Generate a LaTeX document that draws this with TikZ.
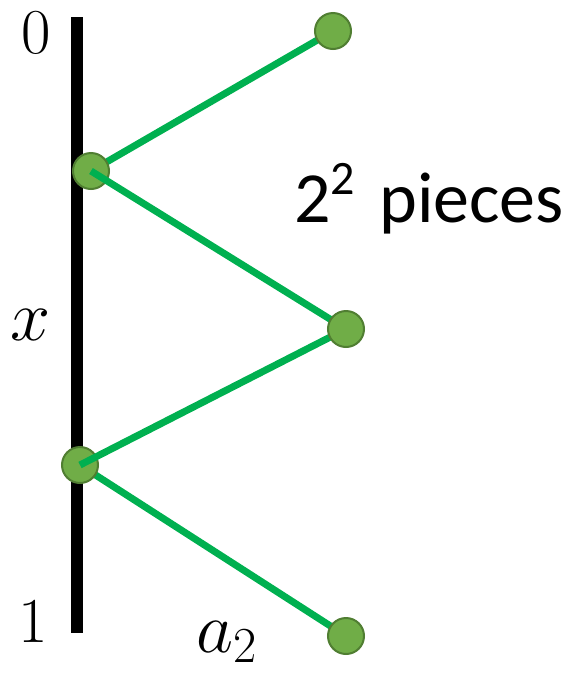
\documentclass[tikz,border=0pt]{standalone}
\usepackage{fix-cm}
\usepackage{fontspec}
\newfontfamily\piecefont{Carlito}
\definecolor{dotfill}{HTML}{70AD47}
\definecolor{dotrim}{HTML}{507E32}
\definecolor{splitgreen}{HTML}{00B050}
\pgfdeclarelayer{back}
\pgfdeclarelayer{front}
\pgfsetlayers{back,main,front}
\begin{document}
\begin{tikzpicture}[
    x=1pt, y=-1pt,
    every node/.style={inner sep=0pt},
    dot/.style={circle, fill=dotfill, draw=dotrim, line width=2pt, minimum size=36pt},
    split/.style={draw=splitgreen, line width=7pt},
    endlabel/.style={anchor=base, font=\fontsize{64}{64}\selectfont},
    mathlabel/.style={font=\fontsize{72}{72}\selectfont},
  ]
    \useasboundingbox (0,0) rectangle (582,673);
    %% the unit interval
    \draw[line width=12pt] (77,17) -- (77,633);
    \node[endlabel] (zero) at (36,53) {0};
    \node[endlabel] (one) at (33,642) {1};
    \node[mathlabel, anchor=base] (xlab) at (31,340) {$x$};
    \node[mathlabel, anchor=base west] (alab) at (196,652) {$a_2$};
    %% cut points on the interval
    \node[dot] (l1) at (91,171) {};
    \node[dot] (l2) at (80,465) {};
    %% the pieces
    \begin{pgfonlayer}{front}
      \node[dot] (r1) at (333,31) {};
      \node[dot] (r2) at (346,329) {};
      \node[dot] (r3) at (346,636) {};
    \end{pgfonlayer}
    \begin{pgfonlayer}{back}
      \draw[split] (l1.center) -- (r1.center);
      \draw[split] (l2.center) -- (r3.center);
    \end{pgfonlayer}
    \draw[split] (l1.center) -- (r2.center);
    \draw[split] (l2.center) -- (r2.center);
    %% count
    \node[anchor=base west, font=\piecefont\fontsize{72}{72}\selectfont] (count) at (294,222)
      {2\raisebox{28pt}{\fontsize{48}{48}\selectfont 2}\hspace{8pt} pieces};
\end{tikzpicture}
\end{document}
